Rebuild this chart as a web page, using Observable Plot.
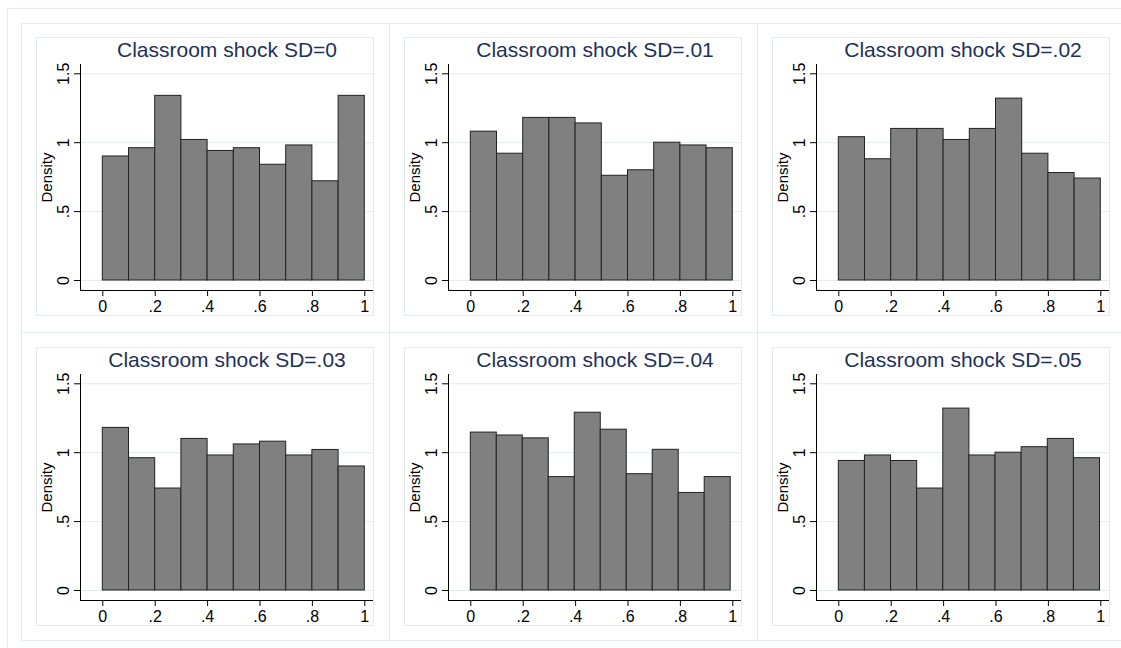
<!DOCTYPE html>
<html><head><meta charset="utf-8">
<script src="https://cdn.jsdelivr.net/npm/d3@7"></script>
<script src="https://cdn.jsdelivr.net/npm/@observablehq/plot@0.6"></script>
<style>
html,body{margin:0;padding:0;background:#fff;overflow:hidden}
#wrap{position:relative;width:1121px;height:648px;overflow:hidden;background:#fff}
.frame{position:absolute;border:1px solid #e2eaed;box-sizing:border-box}
.panel{position:absolute}
.panel svg{display:block;overflow:visible}
</style></head><body><div id="wrap"></div>
<script>
// Panel titles (row-major, 2 rows x 3 columns)
const panelTitles = [
  "Classroom shock SD=0", "Classroom shock SD=.01", "Classroom shock SD=.02",
  "Classroom shock SD=.03", "Classroom shock SD=.04", "Classroom shock SD=.05"
];
// Histogram densities, 10 bins each
const sd0  = [0.90, 0.96, 1.34, 1.02, 0.94, 0.96, 0.84, 0.98, 0.72, 1.34];
const sd01 = [1.08, 0.92, 1.18, 1.18, 1.14, 0.76, 0.80, 1.00, 0.98, 0.96];
const sd02 = [1.04, 0.88, 1.10, 1.10, 1.02, 1.10, 1.32, 0.92, 0.78, 0.74];
const sd03 = [1.18, 0.96, 0.74, 1.10, 0.98, 1.06, 1.08, 0.98, 1.02, 0.90];
const sd04 = [1.146, 1.125, 1.104, 0.823, 1.29, 1.167, 0.844, 1.021, 0.708, 0.823];
const sd05 = [0.94, 0.98, 0.94, 0.74, 1.32, 0.98, 1.00, 1.04, 1.10, 0.96];
const binWidths = [0.1, 0.1, 0.1, 0.1, 0.0992, 0.0997];
const xTicks = [0, 0.2, 0.4, 0.6, 0.8, 1];
const yTicks = [0, 0.5, 1, 1.5];
const yLabel = "Density";

const series = [sd0, sd01, sd02, sd03, sd04, sd05];
const fmt = d => d === 0 ? "0" : String(d).replace(/^0\./, ".");
const gridColor = "#e3ecee";
const titleColor = "#1e3158";
const xDom = [-0.0851, 1.0332];
const yDom = [-0.0726, 1.5675];

const wrap = document.getElementById("wrap");
function addFrame(l, t, w, h) {
  const d = document.createElement("div");
  d.className = "frame";
  Object.assign(d.style, {left: l + "px", top: t + "px", width: w + "px", height: h + "px"});
  wrap.appendChild(d);
}
addFrame(7, 8, 1300, 800);
const colL = [21, 389, 757];
const rowT = [23, 332];
const innerL = [36, 404, 772];
const innerT = [37, 346.5];
for (let r = 0; r < 2; r++) for (let c = 0; c < 3; c++) {
  addFrame(colL[c], rowT[r], 369, r === 0 ? 310 : 309);
  addFrame(innerL[c], innerT[r], 338, 279);
}

function panel(values, bw, title) {
  const bins = values.map((v, i) => ({x1: i * bw, x2: (i + 1) * bw, density: v}));
  return Plot.plot({
    width: 338, height: 278,
    marginLeft: 44, marginRight: 1, marginTop: 27, marginBottom: 25,
    x: {domain: xDom},
    y: {domain: yDom},
    style: {fontFamily: "'Liberation Sans', Arial, sans-serif", fontSize: "16px", color: "#000", background: "transparent", overflow: "visible"},
    marks: [
      Plot.gridY(yTicks, {stroke: gridColor, strokeOpacity: 1}),
      Plot.rectY(bins, {x1: "x1", x2: "x2", y: "density", fill: "#808080", stroke: "#222", strokeWidth: 1}),
      Plot.ruleX([xDom[0]], {stroke: "#000"}),
      Plot.ruleY([yDom[0]], {stroke: "#000"}),
      Plot.axisX(xTicks, {tickSize: 6, tickPadding: 4, tickFormat: fmt, label: null, fontSize: 16}),
      Plot.axisY(yTicks, {tickSize: 6, tickFormat: () => "", label: null}),
      Plot.text(yTicks, {y: d => d, text: fmt, frameAnchor: "left", textAnchor: "middle", lineAnchor: "middle", dx: -17, rotate: -90, fontSize: 16}),
      Plot.text([yLabel], {frameAnchor: "left", textAnchor: "middle", lineAnchor: "middle", dx: -33, rotate: -90, fontSize: 15}),
      Plot.text([title], {frameAnchor: "top", textAnchor: "middle", lineAnchor: "middle", dy: -14, fontSize: 21, fill: titleColor})
    ]
  });
}

series.forEach((vals, i) => {
  const r = Math.floor(i / 3), c = i % 3;
  const holder = document.createElement("div");
  holder.className = "panel";
  holder.style.left = innerL[c] + "px";
  holder.style.top = innerT[r] + "px";
  holder.appendChild(panel(vals, binWidths[i], panelTitles[i]));
  wrap.appendChild(holder);
});
</script>
</body></html>
